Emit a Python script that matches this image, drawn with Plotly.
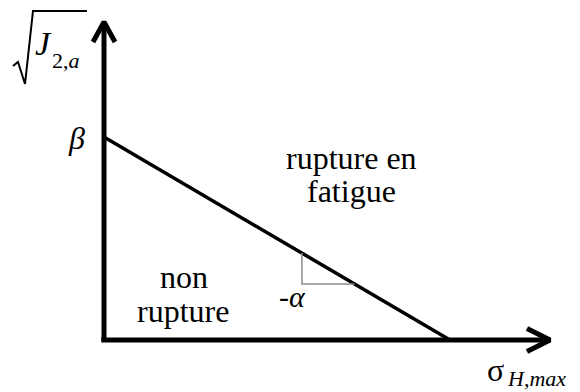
import plotly.graph_objects as go

W, H = 580, 392

# ---- data (diagram units) ----
beta = 1.0            # intercept on the sqrt(J2,a) axis
sigma0 = 1.0          # intercept on the sigma_H,max axis
alpha = beta / sigma0 # slope magnitude
x_axis_end = 1.289    # end of horizontal axis
y_axis_end = 1.5665   # end of vertical axis
tri_x0 = 0.572        # slope triangle: left x
tri_y0 = 0.276        # slope triangle: bottom y

x_range = [-0.3006, 1.3757]
y_range = [-0.2562, 1.6749]

labels_region = ["rupture en", "fatigue", "non", "rupture"]

SERIF = "Liberation Serif"

def P(px, py):
    return px / W, 1 - py / H

fig = go.Figure()

def line(xs, ys, width, color="black"):
    fig.add_trace(go.Scatter(x=xs, y=ys, mode="lines",
                             line=dict(color=color, width=width),
                             hoverinfo="skip", showlegend=False))

# axes
line([0, 0], [0, y_axis_end], 5)
line([-0.008, x_axis_end], [0, 0], 5)
# arrowheads
ax, ay = 0.0665, 0.0567
line([x_axis_end - ax, x_axis_end, x_axis_end - ax], [ay, 0, -ay], 5)
vx, vy = 0.0318, 0.0985
line([-vx, 0, vx], [y_axis_end - vy, y_axis_end, y_axis_end - vy], 5)

# criterion line
line([0, sigma0], [beta, 0], 3.5)

# slope triangle
y_top = beta - alpha * tri_x0
x_right = (beta - tri_y0) / alpha
line([tri_x0, tri_x0, x_right], [y_top, tri_y0, tri_y0], 1.5, color="#8c8c8c")

# radical sign for sqrt(J2,a)
rad_px = [(13, 66), (18, 62), (25, 84), (33, 11), (87, 11)]
line([x_range[0] + px / W * (x_range[1] - x_range[0]) for px, py in rad_px],
     [y_range[1] - py / H * (y_range[1] - y_range[0]) for px, py in rad_px], 2)

def text(t, px, py, size, xanchor="center", italic=False):
    x, y = P(px, py)
    if italic:
        t = "<i>" + t + "</i>"
    fig.add_annotation(x=x, y=y, xref="paper", yref="paper", text=t,
                       showarrow=False, xanchor=xanchor, yanchor="middle",
                       font=dict(family=SERIF, size=size, color="black"))

text(labels_region[0], 351, 158, 32)
text(labels_region[1], 351, 191, 32)
text(labels_region[2], 184, 277, 32)
text(labels_region[3], 183, 311, 32)
text("-<i>α</i>", 292, 296, 30)
text("β", 76, 138, 32, italic=True)
text("J", 43, 43, 34, italic=True)
text("2,<i>a</i>", 50, 60, 22, xanchor="left")
text("σ", 495, 370, 32)
text("H,max", 505, 378, 22, xanchor="left", italic=True)

fig.update_layout(
    width=W, height=H, margin=dict(l=0, r=0, t=0, b=0),
    paper_bgcolor="white", plot_bgcolor="white",
    xaxis=dict(range=x_range, visible=False, fixedrange=True),
    yaxis=dict(range=y_range, visible=False, fixedrange=True),
    showlegend=False,
)

fig.write_html("out.html", config={"displayModeBar": False},
               post_script="document.body.style.margin='0';")
